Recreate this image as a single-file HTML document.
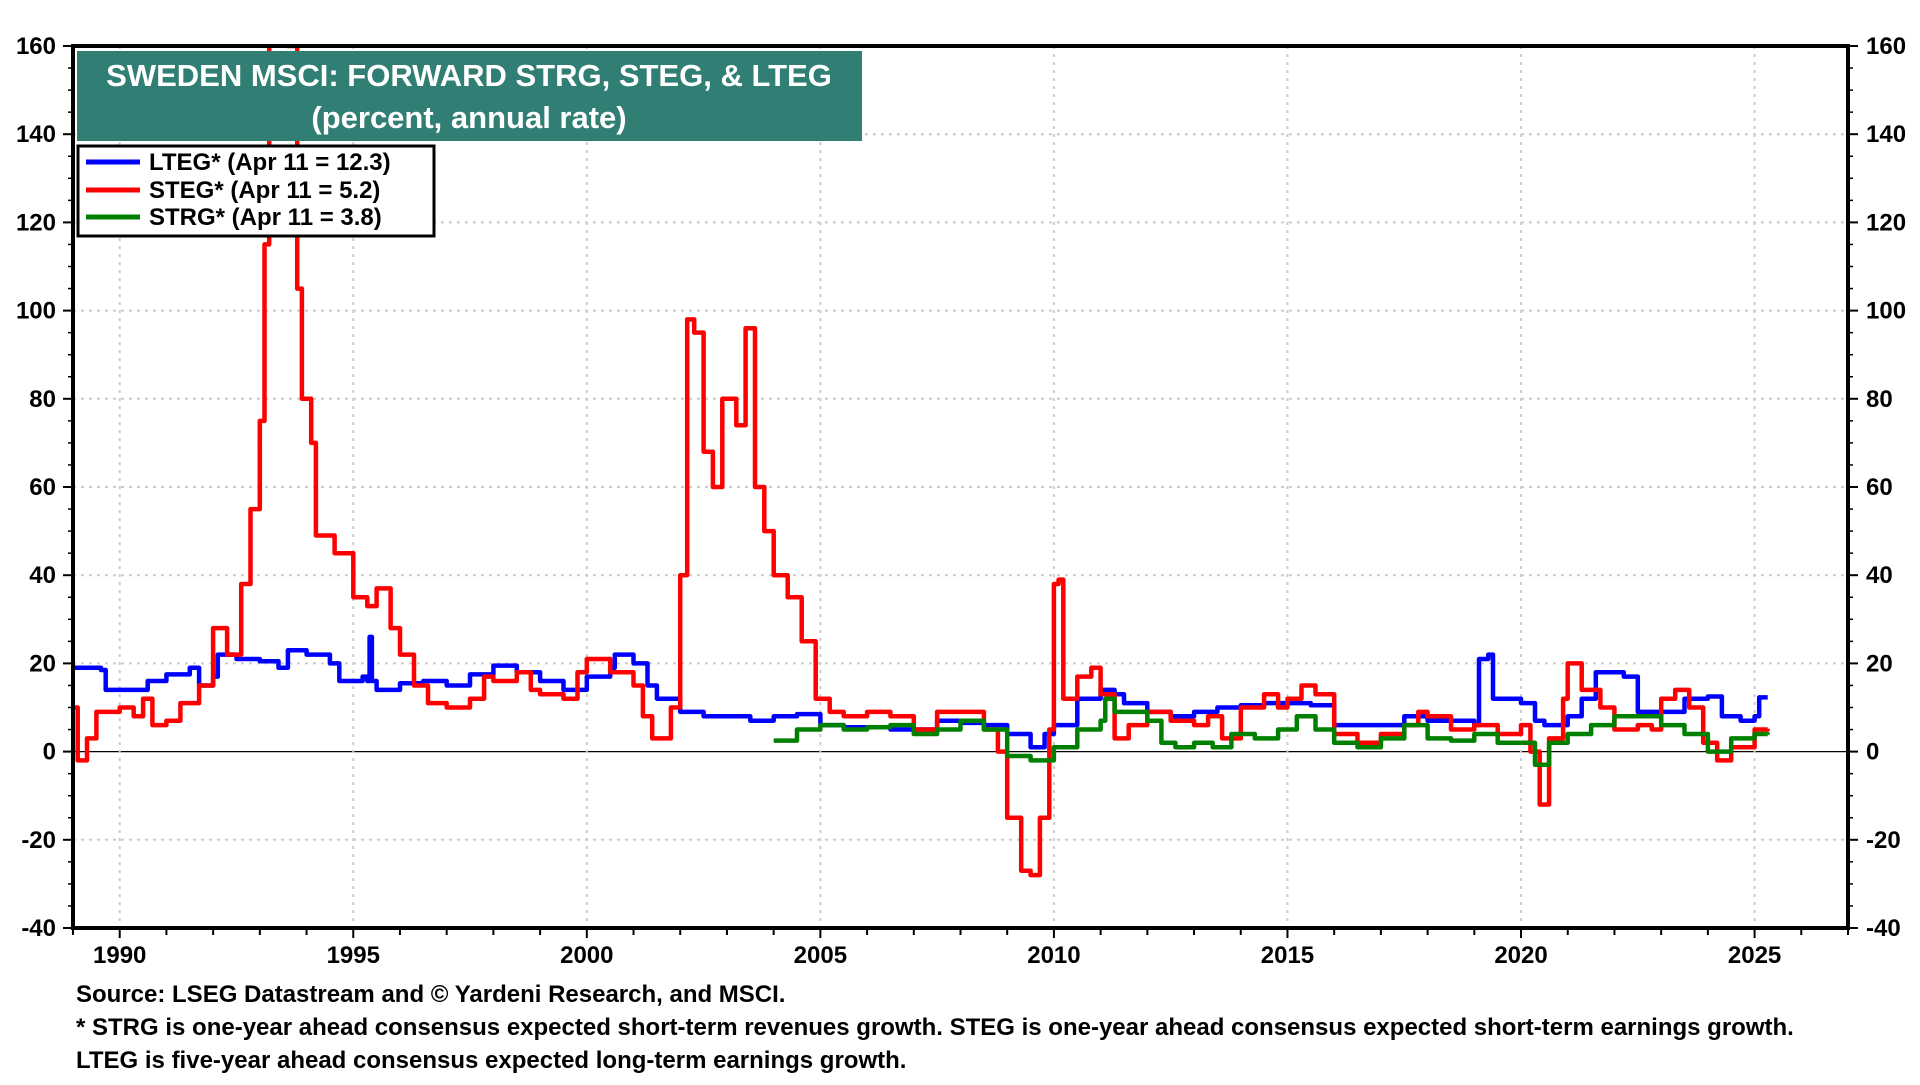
<!DOCTYPE html>
<html><head><meta charset="utf-8"><style>
body{margin:0;background:#fff;font-family:"Liberation Sans",Arial,sans-serif}
svg text{font-family:"Liberation Sans",Arial,sans-serif;font-weight:bold}
</style></head><body>
<svg id="chart" width="1920" height="1080" viewBox="0 0 1920 1080" xmlns="http://www.w3.org/2000/svg">
<defs><clipPath id="clip"><rect x="73" y="46" width="1775" height="882"/></clipPath></defs>
<g id="grid"></g>
<g id="series" clip-path="url(#clip)"></g>
<rect x="73" y="46" width="1775" height="882" fill="none" stroke="#000" stroke-width="4"/>
<g id="axes"></g>
<g>
<rect x="77" y="51" width="785" height="90" fill="#317f74"/>
<text x="469" y="86" fill="#fff" font-size="31" text-anchor="middle">SWEDEN MSCI: FORWARD STRG, STEG, &amp; LTEG</text>
<text x="469" y="128" fill="#fff" font-size="31" text-anchor="middle">(percent, annual rate)</text>
</g>
<g>
<rect x="78" y="146" width="356" height="90" fill="#fff" stroke="#000" stroke-width="3"/>
<line x1="86" y1="162" x2="140" y2="162" stroke="#0000ff" stroke-width="5"/>
<text x="149" y="170" font-size="24">LTEG* (Apr 11 = 12.3)</text>
<line x1="86" y1="190" x2="140" y2="190" stroke="#ff0000" stroke-width="5"/>
<text x="149" y="198" font-size="24">STEG* (Apr 11 = 5.2)</text>
<line x1="86" y1="217" x2="140" y2="217" stroke="#008000" stroke-width="5"/>
<text x="149" y="225" font-size="24">STRG* (Apr 11 = 3.8)</text>
</g>
<g font-size="24">
<text x="76" y="1002">Source: LSEG Datastream and © Yardeni Research, and MSCI.</text>
<text x="76" y="1035">* STRG is one-year ahead consensus expected short-term revenues growth. STEG is one-year ahead consensus expected short-term earnings growth.</text>
<text x="76" y="1068">LTEG is five-year ahead consensus expected long-term earnings growth.</text>
</g>
</svg>
<script>
const yTicks=[-40,-20,0,20,40,60,80,100,120,140,160];
const xTicks=[1990,1995,2000,2005,2010,2015,2020,2025];
const ltegYears=[1989.0,1989.6,1989.7,1990.4,1990.6,1991,1991.5,1991.7,1992,1992.1,1992.5,1993,1993.4,1993.6,1994,1994.5,1994.7,1995.2,1995.3,1995.35,1995.4,1995.5,1996,1996.5,1997,1997.5,1998,1998.5,1999,1999.5,2000,2000.5,2000.6,2001,2001.3,2001.5,2002,2002.5,2003,2003.5,2004,2004.5,2005,2005.5,2006,2006.5,2007,2007.5,2008,2008.5,2009,2009.5,2009.8,2010,2010.5,2011,2011.3,2011.5,2012,2012.5,2013,2013.5,2014,2014.5,2015,2015.5,2016,2016.5,2017,2017.5,2018,2018.5,2019,2019.1,2019.3,2019.4,2020,2020.3,2020.5,2021,2021.3,2021.6,2022.2,2022.5,2023,2023.5,2024,2024.3,2024.7,2025,2025.1,2025.28];
const ltegValues=[19,18.5,14,14,16,17.5,19,15,17,22,21,20.5,19,23,22,20,16,17,16,26,16,14,15.5,16,15,17.5,19.5,18,16,14,17,19,22,20,15,12,9,8,8,7,8,8.5,6,5.5,5.5,5,5,7,6.5,6,4,1,4,6,12,14,13,11,9,8,9,10,10.5,11,11,10.5,6,6,6,8,7,7,6,21,22,12,11,7,6,8,12,18,17,9,9,12,12.5,8,7,8,12.3,12.3];
const stegYears=[1989,1989.1,1989.3,1989.5,1990,1990.3,1990.5,1990.7,1991,1991.3,1991.7,1992,1992.3,1992.6,1992.8,1993,1993.1,1993.2,1993.6,1993.8,1993.9,1994.1,1994.2,1994.6,1995,1995.3,1995.5,1995.8,1996,1996.3,1996.6,1997,1997.5,1997.8,1998,1998.5,1998.8,1999,1999.5,1999.8,2000,2000.5,2001,2001.2,2001.4,2001.6,2001.8,2002,2002.15,2002.3,2002.5,2002.7,2002.9,2003.2,2003.4,2003.6,2003.8,2004,2004.3,2004.6,2004.9,2005.2,2005.5,2006,2006.5,2007,2007.5,2008,2008.5,2008.8,2009,2009.3,2009.5,2009.7,2009.9,2010,2010.1,2010.2,2010.5,2010.8,2011,2011.3,2011.6,2012,2012.5,2013,2013.3,2013.6,2014,2014.5,2014.8,2015,2015.3,2015.6,2016,2016.5,2017,2017.5,2017.8,2018,2018.5,2019,2019.5,2020,2020.2,2020.4,2020.6,2020.9,2021,2021.3,2021.7,2022,2022.5,2022.8,2023,2023.3,2023.6,2023.9,2024.2,2024.5,2025,2025.28];
const stegValues=[10,-2,3,9,10,8,12,6,7,11,15,28,22,38,55,75,115,165,160,105,80,70,49,45,35,33,37,28,22,15,11,10,12,17,16,18,14,13,12,18,21,18,15,8,3,3,10,40,98,95,68,60,80,74,96,60,50,40,35,25,12,9,8,9,8,5,9,9,5,0,-15,-27,-28,-15,5,38,39,12,17,19,13,3,6,9,7,6,8,3,10,13,10,12,15,13,4,2,4,6,9,8,5,6,4,6,0,-12,3,12,20,14,10,5,6,5,12,14,10,2,-2,1,5,5.2];
const strgYears=[2004.0,2004.5,2005,2005.5,2006,2006.5,2007,2007.5,2008,2008.5,2009,2009.5,2010,2010.5,2011,2011.1,2011.3,2012,2012.3,2012.6,2013,2013.4,2013.8,2014.3,2014.8,2015.2,2015.6,2016,2016.5,2017,2017.5,2018,2018.5,2019,2019.5,2020,2020.3,2020.6,2021,2021.5,2022,2022.5,2023,2023.5,2024,2024.5,2025,2025.28];
const strgValues=[2.5,5,6,5,5.5,6,4,5,7,5,-1,-2,1,5,7,12,9,7,2,1,2,1,4,3,5,8,5,2,1,3,6,3,2.5,4,2,2,-3,2,4,6,8,8,6,4,0,3,4,3.8];

const X0=73,X1=1848,Y0=46,Y1=928;
const xS=y=>X0+(y-1989)/(2027-1989)*(X1-X0);
const yS=v=>Y1-(v+40)/200*(Y1-Y0);
const NS='http://www.w3.org/2000/svg';
function mk(tag,attrs,parent){const e=document.createElementNS(NS,tag);for(const k in attrs)e.setAttribute(k,attrs[k]);parent.appendChild(e);return e;}
const grid=document.getElementById('grid'),axes=document.getElementById('axes'),series=document.getElementById('series');
yTicks.forEach(v=>{
  if(v>-40&&v<160){const g=mk('line',{x1:X0,x2:X1,y1:yS(v),y2:yS(v),stroke:v===0?'#000':'#ccc','stroke-width':v===0?1.2:2,'stroke-dasharray':v===0?'':'3,5'},grid);
  
  }
  const t1=mk('text',{x:56,y:yS(v)+8,'font-size':24,'text-anchor':'end'},axes);t1.textContent=v;
  
  
  const t2=mk('text',{x:1866,y:yS(v)+8,'font-size':24},axes);t2.textContent=v;
  
  
  mk('line',{x1:X0-10,x2:X0,y1:yS(v),y2:yS(v),stroke:'#000','stroke-width':2},axes);
  mk('line',{x1:X1,x2:X1+10,y1:yS(v),y2:yS(v),stroke:'#000','stroke-width':2},axes);
});
for(let v=-35;v<160;v+=5){if(v%20===0)continue;
  mk('line',{x1:X0-5,x2:X0,y1:yS(v),y2:yS(v),stroke:'#000','stroke-width':1.5},axes);
  mk('line',{x1:X1,x2:X1+5,y1:yS(v),y2:yS(v),stroke:'#000','stroke-width':1.5},axes);}
for(let yr=1989;yr<=2027;yr++)mk('line',{x1:xS(yr),x2:xS(yr),y1:Y1,y2:Y1+(yr%5===0?10:7),stroke:'#000','stroke-width':2},axes);
xTicks.forEach(yr=>{
  const g=mk('line',{x1:xS(yr),x2:xS(yr),y1:Y0,y2:Y1,stroke:'#ccc','stroke-width':2,'stroke-dasharray':'3,5'},grid);
  
  
  const t=mk('text',{x:xS(yr),y:963,'font-size':24,'text-anchor':'middle'},axes);t.textContent=yr;
  
  
});
function draw(xs,vs,color,name){
  let d='M'+xS(xs[0]).toFixed(1)+','+yS(vs[0]).toFixed(1);
  for(let i=1;i<xs.length;i++){d+='H'+xS(xs[i]).toFixed(1)+'V'+yS(vs[i]).toFixed(1);}
  const p=mk('path',{d:d,fill:'none',stroke:color,'stroke-width':4.5,'stroke-linejoin':'round'},series);
  
  
}
draw(ltegYears,ltegValues,'#0000ff','lteg-line');
draw(stegYears,stegValues,'#ff0000','steg-line');
draw(strgYears,strgValues,'#008000','strg-line');
</script>
</body></html>
